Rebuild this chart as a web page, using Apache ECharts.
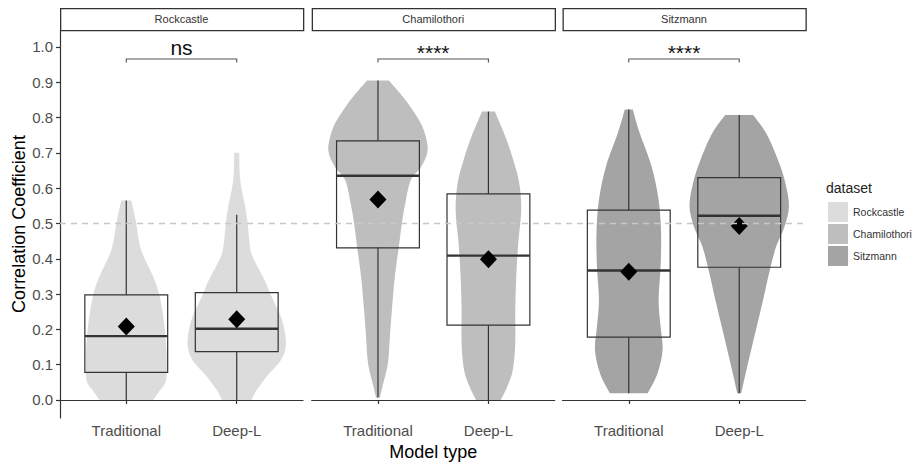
<!DOCTYPE html>
<html>
<head>
<meta charset="utf-8">
<script src="https://cdn.jsdelivr.net/npm/echarts@6/dist/echarts.min.js"></script>
<style>html,body{margin:0;padding:0;background:#fff}#c{width:921px;height:462px}</style>
</head>
<body>
<div id="c"></div>
<script>
// ---------- DATA ----------
const categories = ['Traditional', 'Deep-L'];
const datasets = ['Rockcastle', 'Chamilothori', 'Sitzmann'];
const yTicks = [0.0, 0.1, 0.2, 0.3, 0.4, 0.5, 0.6, 0.7, 0.8, 0.9, 1.0];
const refLine = 0.5;
// box stats: [lower whisker, Q1, median, Q3, upper whisker]
const rockcastleStats = [[0.0, 0.078, 0.181, 0.298, 0.565], [0.0, 0.137, 0.202, 0.304, 0.525]];
const chamilothoriStats = [[0.007, 0.431, 0.635, 0.734, 0.905], [0.0, 0.212, 0.409, 0.584, 0.817]];
const sitzmannStats = [[0.019, 0.178, 0.367, 0.538, 0.823], [0.019, 0.376, 0.522, 0.630, 0.807]];
const rockcastleMeans = [0.208, 0.229];
const chamilothoriMeans = [0.568, 0.399];
const sitzmannMeans = [0.363, 0.493];
// violin profiles: [value, relative density]
const rockcastleTradViolin = [[0.565,0.10],[0.54,0.14],[0.5,0.20],[0.425,0.30],[0.35,0.54],[0.30,0.66],[0.22,0.76],[0.133,0.81],[0.057,0.80],[0.024,0.66],[0.0,0.54]];
const rockcastleDeepViolin = [[0.70,0.05],[0.623,0.07],[0.548,0.17],[0.50,0.22],[0.444,0.26],[0.406,0.32],[0.34,0.56],[0.293,0.70],[0.227,0.91],[0.16,0.99],[0.113,0.89],[0.066,0.60],[0.028,0.40],[0.0,0.30]];
const chamilothoriTradViolin = [[0.905,0.22],[0.859,0.50],[0.812,0.74],[0.765,0.92],[0.708,1.0],[0.661,0.87],[0.623,0.66],[0.557,0.55],[0.50,0.48],[0.434,0.42],[0.35,0.34],[0.255,0.28],[0.18,0.24],[0.104,0.20],[0.038,0.09],[0.007,0.04]];
const chamilothoriDeepViolin = [[0.817,0.13],[0.746,0.34],[0.68,0.50],[0.614,0.62],[0.538,0.66],[0.444,0.60],[0.35,0.56],[0.255,0.54],[0.16,0.54],[0.085,0.49],[0.038,0.38],[0.0,0.25]];
const sitzmannTradViolin = [[0.823,0.08],[0.756,0.22],[0.661,0.46],[0.567,0.60],[0.472,0.65],[0.378,0.64],[0.283,0.60],[0.208,0.64],[0.142,0.68],[0.076,0.58],[0.019,0.38]];
const sitzmannDeepViolin = [[0.807,0.28],[0.756,0.54],[0.68,0.78],[0.614,0.93],[0.548,1.0],[0.491,0.91],[0.434,0.74],[0.359,0.60],[0.283,0.48],[0.189,0.32],[0.094,0.16],[0.019,0.04]];
const sigLabels = ['ns', '****', '****'];
const bracketLevel = 0.966;

// ---------- LAYOUT / STYLE ----------
const colors = ['#dcdcdc', '#bebebe', '#a4a4a4'];
const panelLeft = [60, 311.7, 562.5];
const panelWidth = 243;
const panelTop = 30, panelHeight = 388;
const yMin = -0.051, yMax = 1.048;
const xMin = 0.4, xMax = 2.6;
const boxHalf = 0.375, violinHalf = 0.45;
const font = 'Liberation Sans, Arial, Helvetica, sans-serif';

// smooth open curve through points (Catmull-Rom -> cubic bezier), as path commands
function curveCmds(pts) {
  let s = '';
  for (let k = 0; k < pts.length - 1; k++) {
    const p0 = pts[Math.max(0, k - 1)], p1 = pts[k], p2 = pts[k + 1], p3 = pts[Math.min(pts.length - 1, k + 2)];
    const c1 = [p1[0] + (p2[0] - p0[0]) / 6, p1[1] + (p2[1] - p0[1]) / 6];
    const c2 = [p2[0] - (p3[0] - p1[0]) / 6, p2[1] - (p3[1] - p1[1]) / 6];
    s += ' C' + c1[0].toFixed(2) + ',' + c1[1].toFixed(2) + ' ' + c2[0].toFixed(2) + ',' + c2[1].toFixed(2) + ' ' + p2[0].toFixed(2) + ',' + p2[1].toFixed(2);
  }
  return s;
}

const panels = [
  { stats: rockcastleStats, means: rockcastleMeans, violins: [rockcastleTradViolin, rockcastleDeepViolin] },
  { stats: chamilothoriStats, means: chamilothoriMeans, violins: [chamilothoriTradViolin, chamilothoriDeepViolin] },
  { stats: sitzmannStats, means: sitzmannMeans, violins: [sitzmannTradViolin, sitzmannDeepViolin] }
];

const grids = [], xAxes = [], yAxes = [], series = [], graphics = [];
panels.forEach((p, i) => {
  grids.push({ left: panelLeft[i], top: panelTop, width: panelWidth, height: panelHeight, outerBoundsMode: 'none' });
  xAxes.push({
    type: 'value', gridIndex: i, min: xMin, max: xMax, splitLine: { show: false },
    axisLine: { show: true, lineStyle: { color: '#333', width: 1.2 } },
    axisTick: { show: true, length: 4, customValues: [1, 2], lineStyle: { color: '#333', width: 1.2 } },
    axisLabel: { show: true, customValues: [1, 2], margin: 5, fontSize: 15, color: '#4d4d4d', fontFamily: font,
      formatter: v => categories[Math.round(v) - 1] },
    name: i === 1 ? 'Model type' : '', nameLocation: 'middle', nameGap: 17,
    nameTextStyle: { fontSize: 18, color: '#000', fontFamily: font }
  });
  yAxes.push({
    type: 'value', gridIndex: i, min: yMin, max: yMax, show: i === 0, splitLine: { show: false },
    axisLine: { show: true, lineStyle: { color: '#333', width: 1.2 } },
    axisTick: { show: true, length: 4, customValues: yTicks, lineStyle: { color: '#333', width: 1.2 } },
    axisLabel: { customValues: yTicks, margin: 7, fontSize: 15, color: '#4d4d4d', fontFamily: font,
      formatter: v => v.toFixed(1) },
    name: 'Correlation Coefficient', nameLocation: 'middle', nameGap: 32.5,
    nameTextStyle: { fontSize: 18, color: '#000', fontFamily: font }
  });
  // violins
  series.push({
    type: 'custom', name: datasets[i], xAxisIndex: i, yAxisIndex: i, z: 1,
    itemStyle: { color: colors[i] },
    data: categories.map((c, k) => [k + 1, 0]),
    renderItem: (params, api) => {
      const prof = p.violins[params.dataIndex];
      const xc = api.value(0);
      const left = prof.map(([v, d]) => api.coord([xc - d * violinHalf, v]));
      const right = prof.slice().reverse().map(([v, d]) => api.coord([xc + d * violinHalf, v]));
      const d = 'M' + left[0][0].toFixed(2) + ',' + left[0][1].toFixed(2) + curveCmds(left) +
        ' L' + right[0][0].toFixed(2) + ',' + right[0][1].toFixed(2) + curveCmds(right) + ' Z';
      return { type: 'path', shape: { pathData: d }, style: { fill: colors[i] } };
    }
  });
  // boxes
  series.push({
    type: 'custom', xAxisIndex: i, yAxisIndex: i, z: 2,
    data: p.stats.map((s, k) => [k + 1].concat(s)),
    renderItem: (params, api) => {
      const x = api.value(0), lo = api.value(1), q1 = api.value(2), md = api.value(3), q3 = api.value(4), hi = api.value(5);
      const a = api.coord([x - boxHalf, q3]), b = api.coord([x + boxHalf, q1]);
      const m1 = api.coord([x - boxHalf, md]), m2 = api.coord([x + boxHalf, md]);
      const t1 = api.coord([x, hi]), t2 = api.coord([x, q3]), u1 = api.coord([x, q1]), u2 = api.coord([x, lo]);
      const st = { stroke: '#333', lineWidth: 1.2, fill: null };
      return { type: 'group', children: [
        { type: 'line', shape: { x1: t1[0], y1: t1[1], x2: t2[0], y2: t2[1] }, style: st },
        { type: 'line', shape: { x1: u1[0], y1: u1[1], x2: u2[0], y2: u2[1] }, style: st },
        { type: 'rect', shape: { x: a[0], y: a[1], width: b[0] - a[0], height: b[1] - a[1] }, style: { stroke: '#333', lineWidth: 1.2, fill: 'none' } },
        { type: 'line', shape: { x1: m1[0], y1: m1[1], x2: m2[0], y2: m2[1] }, style: { stroke: '#333', lineWidth: 2.4 } }
      ] };
    }
  });
  // means
  series.push({
    type: 'scatter', xAxisIndex: i, yAxisIndex: i, z: 3, symbol: 'diamond', symbolSize: [17, 18],
    itemStyle: { color: '#000', opacity: 1 }, silent: true,
    data: p.means.map((m, k) => [k + 1, m])
  });
  // significance bracket
  series.push({
    type: 'custom', xAxisIndex: i, yAxisIndex: i, z: 3,
    data: [[1, 2, bracketLevel]],
    renderItem: (params, api) => {
      const l = api.coord([api.value(0), api.value(2)]), r = api.coord([api.value(1), api.value(2)]);
      const lab = sigLabels[i];
      const dy = lab === 'ns' ? -1 : 4.5;
      return { type: 'group', children: [
        { type: 'polyline', shape: { points: [[l[0], l[1] + 3.5], l, r, [r[0], r[1] + 3.5]] }, style: { stroke: '#555', lineWidth: 1.1, fill: null } },
        { type: 'text', x: (l[0] + r[0]) / 2, y: l[1] + dy, style: { text: lab, fontSize: 21, fontFamily: font, fill: '#111', align: 'center', verticalAlign: 'bottom' } }
      ] };
    }
  });
  // strip
  graphics.push({ type: 'rect', left: panelLeft[i], top: 8, shape: { x: 0, y: 0, width: panelWidth, height: 22 }, style: { fill: '#fff', stroke: '#333', lineWidth: 1.3 } });
  graphics.push({ type: 'text', x: panelLeft[i] + panelWidth / 2, y: 19, style: { text: datasets[i], fontSize: 11, fontFamily: font, fill: '#333', align: 'center', verticalAlign: 'middle' } });
});

// reference line across all panels
grids.push({ left: panelLeft[0], top: panelTop, width: panelLeft[2] + panelWidth - panelLeft[0], height: panelHeight, outerBoundsMode: 'none' });
xAxes.push({ type: 'value', gridIndex: 3, min: 0, max: 1, show: false });
yAxes.push({ type: 'value', gridIndex: 3, min: yMin, max: yMax, show: false });
series.push({
  type: 'line', xAxisIndex: 3, yAxisIndex: 3, z: 10, symbol: 'none', silent: true,
  lineStyle: { color: '#c8c8c8', width: 1.4, type: [6, 5] },
  data: [[0, refLine], [1, refLine]]
});

graphics.push({ type: 'text', x: 826, y: 188, style: { text: 'dataset', fontSize: 14, fontFamily: font, fill: '#222', align: 'left', verticalAlign: 'middle' } });

const chart = echarts.init(document.getElementById('c'), null, { renderer: 'svg' });
chart.setOption({
  animation: false,
  backgroundColor: '#fff',
  grid: grids, xAxis: xAxes, yAxis: yAxes, series: series, graphic: graphics,
  legend: {
    data: datasets, orient: 'vertical', left: 828, top: 202, padding: 0, itemWidth: 20, itemHeight: 20, itemGap: 2,
    icon: 'rect', selectedMode: false,
    textStyle: { fontSize: 10.5, color: '#333', fontFamily: font }
  }
});
</script>
</body>
</html>
